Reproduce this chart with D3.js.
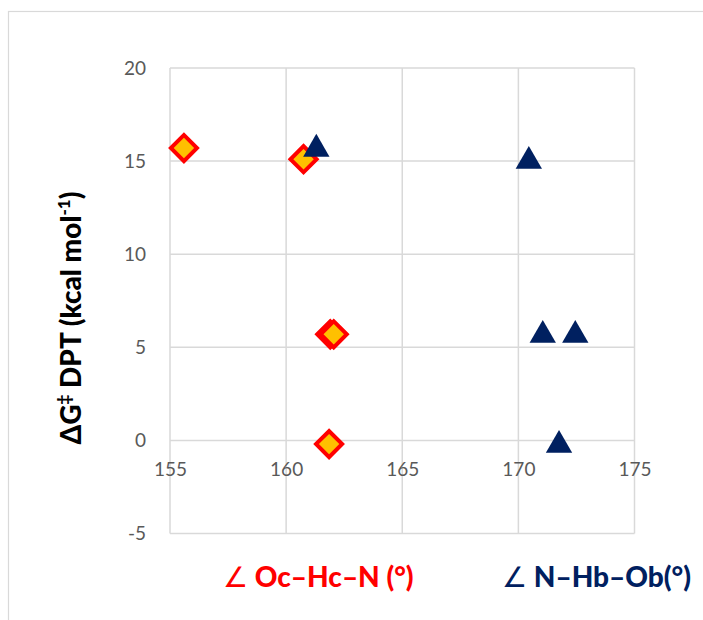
<!DOCTYPE html>
<html>
<head>
<meta charset="utf-8">
<script src="https://cdn.jsdelivr.net/npm/d3@7"></script>
<style>
  body { margin: 0; background: #fff; }
  svg { display: block; font-family: Lato, "Open Sans", sans-serif; }
</style>
</head>
<body>
<div id="chart"></div>
<script>
'use strict';
// data
var ocHcNAngle = [155.6, 160.75, 161.9, 162.05, 161.85];
var ocHcNDeltaG = [15.7, 15.1, 5.7, 5.7, -0.2];
var nHbObAngle = [161.3, 170.45, 171.05, 172.45, 171.75];
var nHbObDeltaG = [15.7, 15.05, 5.7, 5.7, -0.2];
var xTicks = [155, 160, 165, 170, 175];
var yTicks = [-5, 0, 5, 10, 15, 20];

var width = 703, height = 620;
var svg = d3.select("#chart").append("svg")
    .attr("width", width)
    .attr("height", height);

// outer chart frame
svg.append("rect")
    .attr("x", 8.5).attr("y", 11.5)
    .attr("width", 720).attr("height", 640)
    .attr("fill", "none")
    .attr("stroke", "#d9d9d9")
    .attr("stroke-width", 1.2);

var x = d3.scaleLinear().domain([155, 175]).range([170, 634.5]);
var y = d3.scaleLinear().domain([-5, 20]).range([533.5, 68]);

// gridlines
var grid = svg.append("g").attr("stroke", "#d9d9d9").attr("stroke-width", 1.5);
grid.selectAll("line.v")
    .data(xTicks)
    .enter().append("line")
    .attr("class", "v")
    .attr("x1", function(d) { return x(d); })
    .attr("x2", function(d) { return x(d); })
    .attr("y1", y(20)).attr("y2", y(-5));
grid.selectAll("line.h")
    .data(yTicks)
    .enter().append("line")
    .attr("class", "h")
    .attr("x1", x(155)).attr("x2", x(175))
    .attr("y1", function(d) { return y(d); })
    .attr("y2", function(d) { return y(d); });

// y axis labels
var yAxis = svg.append("g")
    .attr("transform", "translate(" + x(155) + ",0)")
    .call(d3.axisLeft(y).tickValues(yTicks).tickFormat(String).tickSize(0).tickPadding(24));
yAxis.select(".domain").remove();
yAxis.selectAll("text")
    .attr("fill", "#595959")
    .attr("font-size", 19)
    .attr("font-family", "Lato, 'Open Sans', sans-serif");

// x axis labels, axis crosses at y = 0
var xAxis = svg.append("g")
    .attr("transform", "translate(0," + y(0) + ")")
    .call(d3.axisBottom(x).tickValues(xTicks).tickFormat(String).tickSize(0).tickPadding(22));
xAxis.select(".domain").remove();
xAxis.selectAll("text")
    .attr("fill", "#595959")
    .attr("font-size", 19)
    .attr("font-family", "Lato, 'Open Sans', sans-serif");

// series 1: diamonds
var diamond = d3.symbol().type(d3.symbolSquare).size(340);
svg.append("g").selectAll("path")
    .data(d3.range(ocHcNAngle.length))
    .enter().append("path")
    .attr("d", diamond)
    .attr("transform", function(i) {
        return "translate(" + x(ocHcNAngle[i]) + "," + y(ocHcNDeltaG[i]) + ") rotate(45)";
    })
    .attr("fill", "#ffc000")
    .attr("stroke", "#ff0000")
    .attr("stroke-width", 4);

// series 2: triangles
var tri = d3.symbol().type(d3.symbolTriangle).size(300);
svg.append("g").selectAll("path")
    .data(d3.range(nHbObAngle.length))
    .enter().append("path")
    .attr("d", tri)
    .attr("transform", function(i) {
        return "translate(" + x(nHbObAngle[i]) + "," + (y(nHbObDeltaG[i]) + 1) + ")";
    })
    .attr("fill", "#002060");

// y title
var yTitle = svg.append("text")
    .attr("transform", "translate(81,318) rotate(-90)")
    .attr("text-anchor", "middle")
    .attr("font-weight", 900)
    .attr("font-size", 28)
    .attr("fill", "#000");
yTitle.append("tspan").text("\u0394G");
yTitle.append("tspan").attr("font-size", 17).attr("dy", -11).text("\u2021");
yTitle.append("tspan").attr("dy", 11).text(" DPT (kcal mol");
yTitle.append("tspan").attr("font-size", 17).attr("dy", -11).text("-1");
yTitle.append("tspan").attr("dy", 11).text(")");

// legend-like captions under the plot
var captions = [
    {text: "Oc\u2013Hc\u2013N (\u00b0)", color: "#ff0000", x: 223},
    {text: "N\u2013Hb\u2013Ob(\u00b0)", color: "#002060", x: 502}
];
captions.forEach(function(c) {
    var t = svg.append("text")
        .attr("x", c.x).attr("y", 587)
        .attr("fill", c.color)
        .attr("font-size", 28);
    t.append("tspan").attr("font-weight", "normal").attr("font-family", "'DejaVu Sans', sans-serif").text("\u2220");
    t.append("tspan").attr("font-weight", 900).text(" " + c.text);
});
</script>
</body>
</html>
